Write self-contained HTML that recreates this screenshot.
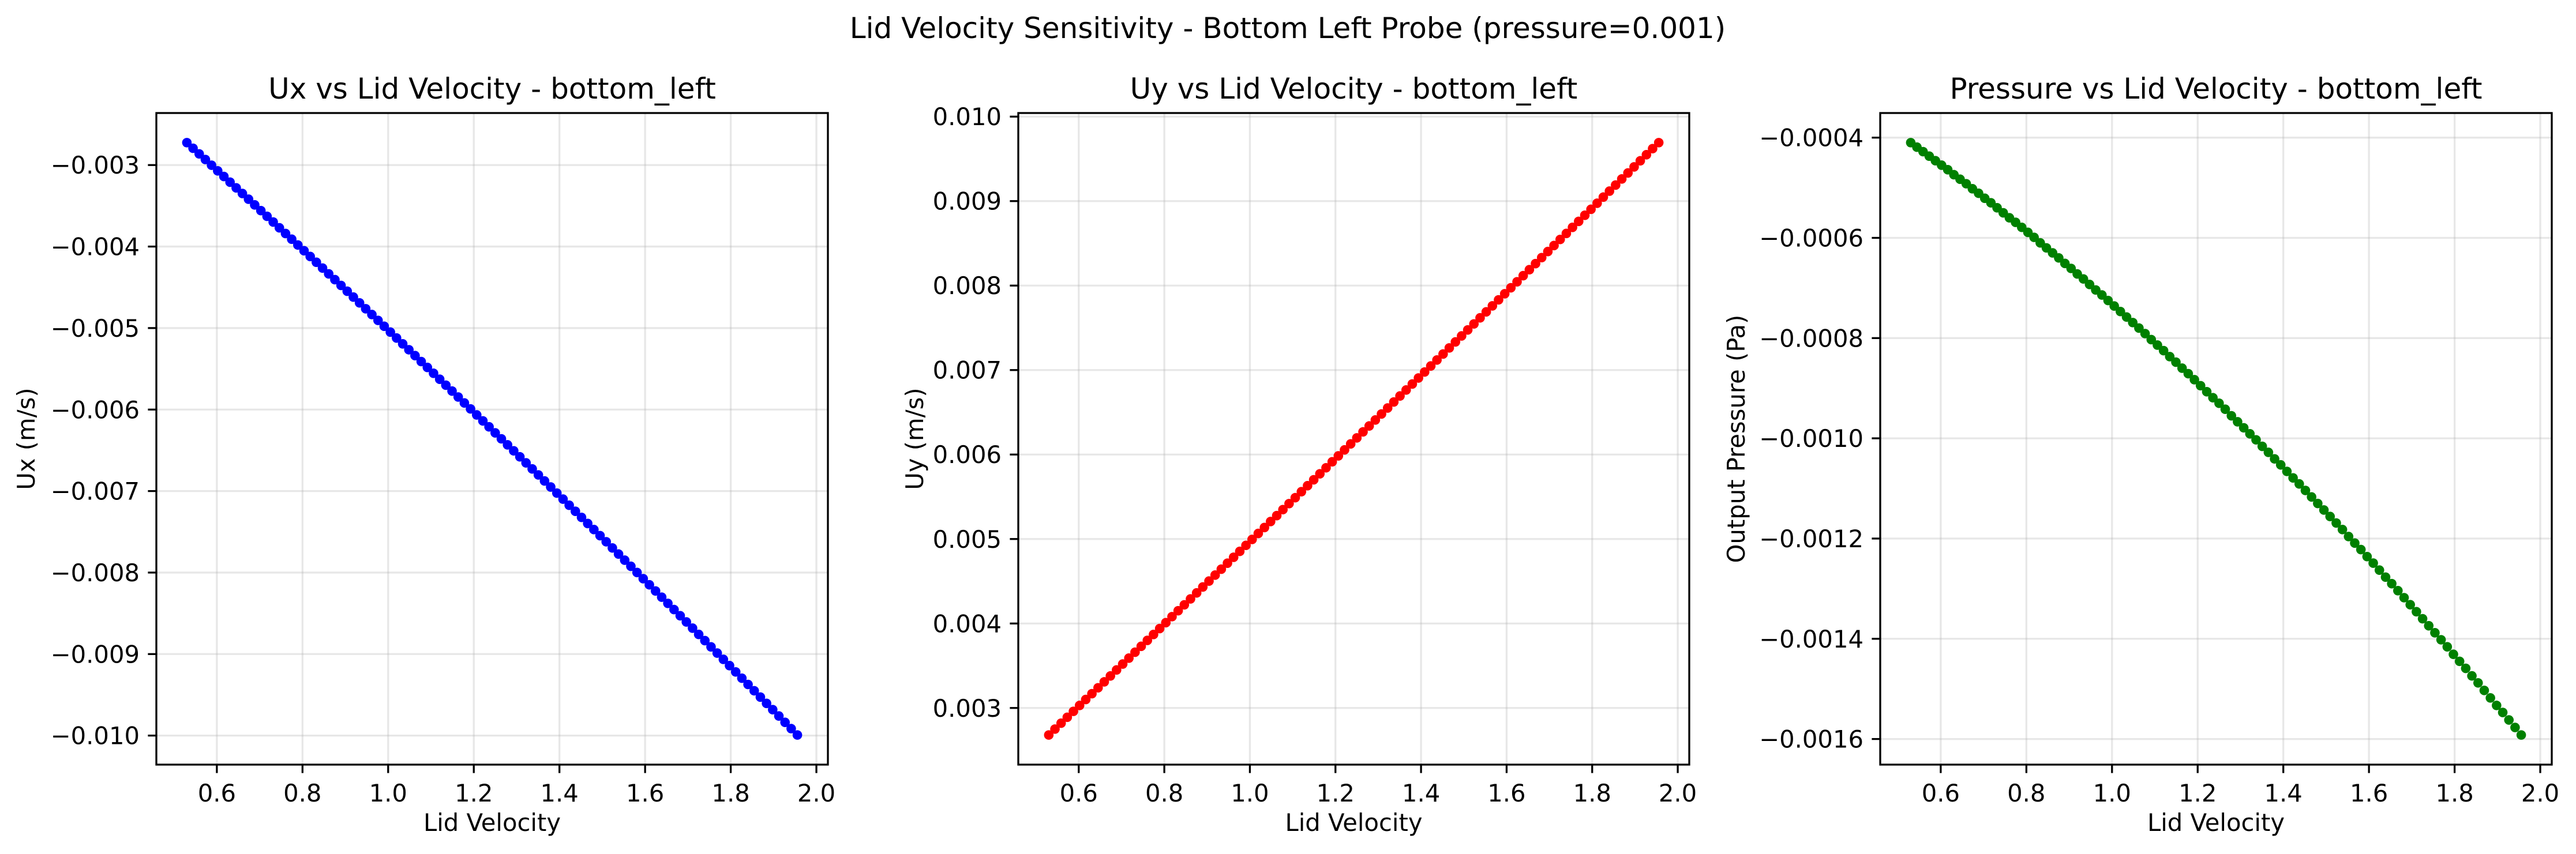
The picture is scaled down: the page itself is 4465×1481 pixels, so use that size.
<!DOCTYPE html>
<html><head><meta charset="utf-8"><style>
html,body{margin:0;padding:0;background:#fff;}
svg{display:block;font-family:"DejaVu Sans","Liberation Sans",sans-serif;}
</style></head><body>
<svg id="fig" width="4465" height="1481" viewBox="0 0 4465 1481" xmlns="http://www.w3.org/2000/svg">
<rect width="4465" height="1481" fill="#fff"/>
<text x="2232" y="66" font-size="50" text-anchor="middle">Lid Velocity Sensitivity - Bottom Left Probe (pressure=0.001)</text>
</svg>
<script>
const lidVelocity=[0.5300,0.5444,0.5588,0.5732,0.5876,0.6020,0.6164,0.6308,0.6452,0.6596,0.6740,0.6884,0.7028,0.7172,0.7316,0.7460,0.7604,0.7748,0.7892,0.8036,0.8180,0.8324,0.8468,0.8612,0.8756,0.8900,0.9044,0.9188,0.9332,0.9476,0.9620,0.9764,0.9908,1.0052,1.0196,1.0340,1.0484,1.0628,1.0772,1.0916,1.1060,1.1204,1.1348,1.1492,1.1636,1.1780,1.1924,1.2068,1.2212,1.2356,1.2500,1.2644,1.2788,1.2932,1.3076,1.3220,1.3364,1.3508,1.3652,1.3796,1.3940,1.4084,1.4228,1.4372,1.4516,1.4660,1.4804,1.4948,1.5092,1.5236,1.5380,1.5524,1.5668,1.5812,1.5956,1.6100,1.6244,1.6388,1.6532,1.6676,1.6820,1.6964,1.7108,1.7252,1.7396,1.7540,1.7684,1.7828,1.7972,1.8116,1.8260,1.8404,1.8548,1.8692,1.8836,1.8980,1.9124,1.9268,1.9412,1.9556];
// values in micro-units (x 1e-6)
const uxMicro=[-2725,-2794,-2863,-2932,-3002,-3071,-3140,-3210,-3280,-3349,-3419,-3489,-3559,-3629,-3699,-3770,-3840,-3910,-3981,-4051,-4122,-4193,-4264,-4335,-4406,-4477,-4548,-4620,-4691,-4763,-4834,-4906,-4978,-5050,-5122,-5194,-5266,-5338,-5411,-5483,-5555,-5628,-5701,-5773,-5846,-5919,-5992,-6066,-6139,-6212,-6286,-6359,-6433,-6506,-6580,-6654,-6728,-6802,-6876,-6950,-7025,-7099,-7174,-7248,-7323,-7398,-7472,-7547,-7622,-7698,-7773,-7848,-7923,-7999,-8075,-8150,-8226,-8302,-8378,-8454,-8530,-8606,-8682,-8759,-8835,-8912,-8988,-9065,-9142,-9219,-9296,-9373,-9450,-9528,-9605,-9682,-9760,-9838,-9915,-9993];
const uyMicro=[2680,2750,2820,2890,2960,3030,3100,3169,3239,3309,3379,3450,3520,3590,3660,3730,3800,3870,3940,4010,4081,4151,4221,4291,4362,4432,4502,4573,4643,4714,4784,4854,4925,4995,5066,5136,5207,5277,5348,5419,5489,5560,5631,5701,5772,5843,5914,5984,6055,6126,6197,6268,6338,6409,6480,6551,6622,6693,6764,6835,6906,6977,7048,7119,7190,7262,7333,7404,7475,7546,7618,7689,7760,7831,7903,7974,8045,8117,8188,8260,8331,8403,8474,8546,8617,8689,8760,8832,8903,8975,9047,9118,9190,9262,9333,9405,9477,9549,9621,9692];
const pressureMicro=[-410,-419,-428,-437,-446,-455,-464,-474,-483,-492,-502,-511,-521,-530,-540,-550,-560,-569,-579,-589,-599,-610,-620,-630,-640,-651,-661,-672,-682,-693,-704,-714,-725,-736,-747,-758,-769,-780,-791,-803,-814,-825,-837,-848,-860,-871,-883,-895,-907,-919,-930,-942,-955,-967,-979,-991,-1003,-1016,-1028,-1041,-1053,-1066,-1079,-1091,-1104,-1117,-1130,-1143,-1156,-1169,-1182,-1196,-1209,-1222,-1236,-1249,-1263,-1277,-1290,-1304,-1318,-1332,-1346,-1360,-1374,-1388,-1402,-1416,-1431,-1445,-1459,-1474,-1488,-1503,-1518,-1533,-1547,-1562,-1577,-1592];
const xTicks=[0.6,0.8,1.0,1.2,1.4,1.6,1.8,2.0];
const xTickLabels=["0.6","0.8","1.0","1.2","1.4","1.6","1.8","2.0"];
const uxTicks=[-0.003,-0.004,-0.005,-0.006,-0.007,-0.008,-0.009,-0.010];
const uxTickLabels=["\u22120.003","\u22120.004","\u22120.005","\u22120.006","\u22120.007","\u22120.008","\u22120.009","\u22120.010"];
const uyTicks=[0.003,0.004,0.005,0.006,0.007,0.008,0.009,0.010];
const uyTickLabels=["0.003","0.004","0.005","0.006","0.007","0.008","0.009","0.010"];
const pTicks=[-0.0004,-0.0006,-0.0008,-0.0010,-0.0012,-0.0014,-0.0016];
const pTickLabels=["\u22120.0004","\u22120.0006","\u22120.0008","\u22120.0010","\u22120.0012","\u22120.0014","\u22120.0016"];

const NS="http://www.w3.org/2000/svg";
const svg=document.getElementById('fig');
function mk(tag,attrs,parent){const e=document.createElementNS(NS,tag);for(const k in attrs)e.setAttribute(k,attrs[k]);(parent||svg).appendChild(e);return e;}
const TOP=196,BOT=1326;
function panel(key,left,right,ys,yt,ytl,color,title,ylabel,ylabelX){
  const g=mk('g',{});
  
  
  const xmin0=Math.min(...lidVelocity),xmax0=Math.max(...lidVelocity);
  const xm=(xmax0-xmin0)*0.05,xlo=xmin0-xm,xhi=xmax0+xm;
  const yv=ys.map(v=>v*1e-6);
  const ymin0=Math.min(...yv),ymax0=Math.max(...yv);
  const ym=(ymax0-ymin0)*0.05,ylo=ymin0-ym,yhi=ymax0+ym;
  const sx=v=>left+(v-xlo)/(xhi-xlo)*(right-left);
  const sy=v=>BOT-(v-ylo)/(yhi-ylo)*(BOT-TOP);
  // grid
  xTicks.forEach((t,i)=>{
    const l=mk('line',{x1:sx(t),x2:sx(t),y1:TOP,y2:BOT,stroke:'#b0b0b0','stroke-opacity':0.3,'stroke-width':3.3},g);
    
    
  });
  yt.forEach((t,i)=>{
    const l=mk('line',{x1:left,x2:right,y1:sy(t),y2:sy(t),stroke:'#b0b0b0','stroke-opacity':0.3,'stroke-width':3.3},g);
    
    
  });
  // points
  const pg=mk('g',{fill:color},g);
  
  
  lidVelocity.forEach((v,i)=>{
    const c=mk('circle',{cx:sx(v),cy:sy(yv[i]),r:8.3},pg);
    
    
  });
  // spines
  const sp=mk('rect',{x:left,y:TOP,width:right-left,height:BOT-TOP,fill:'none',stroke:'#000','stroke-width':3.3},g);
  
  
  // x ticks
  xTicks.forEach((t,i)=>{
    mk('line',{x1:sx(t),x2:sx(t),y1:BOT,y2:BOT+14.6,stroke:'#000','stroke-width':3.3},g);
    const tx=mk('text',{x:sx(t),y:BOT+64,'font-size':41.7,'text-anchor':'middle'},g);
    tx.textContent=xTickLabels[i];
    
    
  });
  yt.forEach((t,i)=>{
    mk('line',{x1:left-14.6,x2:left,y1:sy(t),y2:sy(t),stroke:'#000','stroke-width':3.3},g);
    const tx=mk('text',{x:left-29,y:sy(t)+15,'font-size':41.7,'text-anchor':'end'},g);
    tx.textContent=ytl[i];
    
    
  });
  const ti=mk('text',{x:(left+right)/2,y:171,'font-size':50,'text-anchor':'middle'},g);
  ti.textContent=title;
  
  
  const xl=mk('text',{x:(left+right)/2,y:1441,'font-size':41.7,'text-anchor':'middle'},g);
  xl.textContent='Lid Velocity';
  
  
  const cy=(TOP+BOT)/2;
  const yl=mk('text',{x:ylabelX,y:cy,'font-size':41.7,'text-anchor':'middle',transform:`rotate(-90 ${ylabelX} ${cy})`},g);
  yl.textContent=ylabel;
  
  
}
panel('ux',271,1435,uxMicro,uxTicks,uxTickLabels,'#0000ff','Ux vs Lid Velocity - bottom_left','Ux (m/s)',60);
panel('uy',1765,2928,uyMicro,uyTicks,uyTickLabels,'#ff0000','Uy vs Lid Velocity - bottom_left','Uy (m/s)',1600);
panel('pressure',3259,4423,pressureMicro,pTicks,pTickLabels,'#008000','Pressure vs Lid Velocity - bottom_left','Output Pressure (Pa)',3024);
</script>
</body></html>
